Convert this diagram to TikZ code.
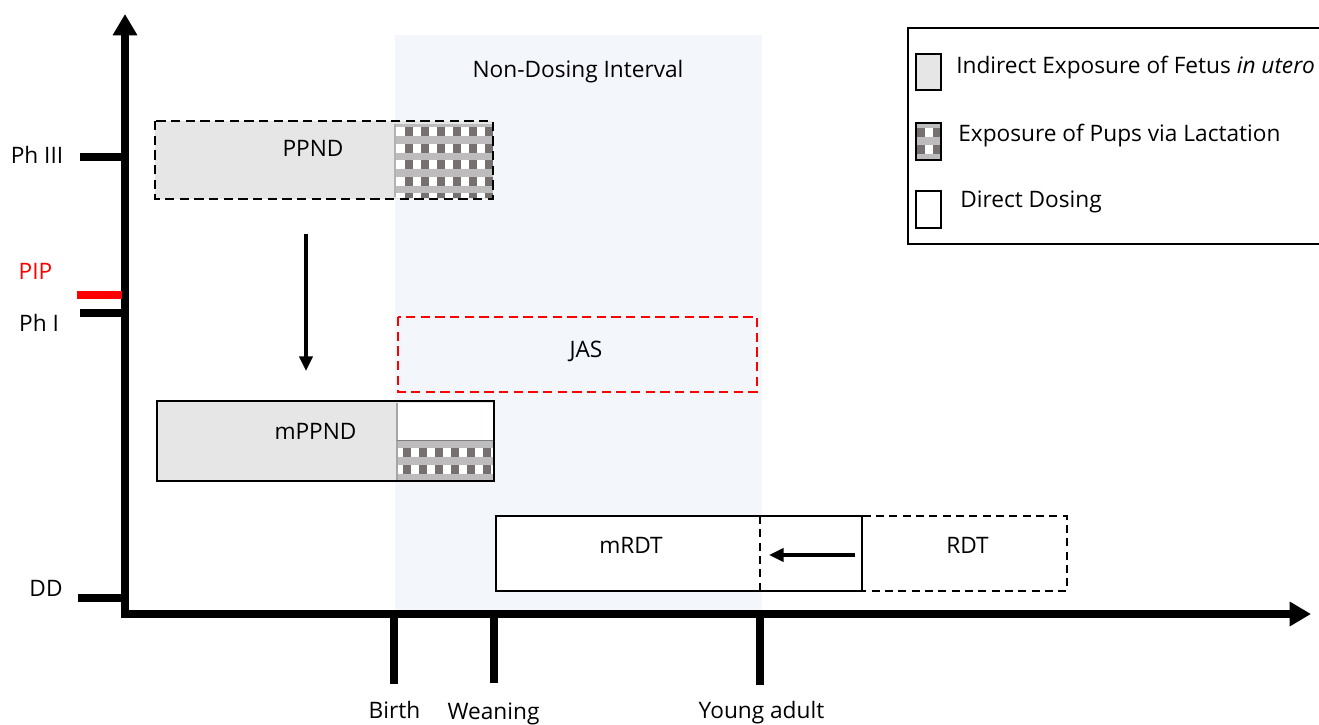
\documentclass[tikz,border=0pt]{standalone}
\usepackage{fontspec}
\setmainfont{Open Sans}
\usetikzlibrary{arrows.meta}

\definecolor{fetusgray}{RGB}{231,230,230}
\definecolor{blockgray}{RGB}{118,113,113}
\definecolor{meshgray}{RGB}{190,188,188}
\definecolor{intervalblue}{RGB}{243,246,251}
\definecolor{pipred}{RGB}{255,0,0}

% lactation texture inside (x1,y1)-(x2,y2); #5 = offset of first block row, #6 = offset of first dark column
\newcommand\lactfill[6]{%
  \begin{scope}
    \clip (#1,#2) rectangle (#3,#4);
    \fill[meshgray] (#1,#2) rectangle (#3,#4);
    \foreach \r in {0,...,5}{
      \fill[white] (#1,#2+#5+16.5*\r) rectangle (#3,#2+#5+16.5*\r+9);
      \foreach \c in {0,...,6}{
        \fill[blockgray] (#1+#6+16*\c,#2+#5+16.5*\r) rectangle ++(7.5,9);
      }
    }
  \end{scope}}

\tikzset{
  axisline/.style={line width=6pt,-{Triangle[width=17.5pt,length=16pt]}},
  tickline/.style={line width=5.3pt},
  dashbox/.style={line width=2.1pt,dash pattern=on 7pt off 4pt},
  thindash/.style={line width=1.5pt,dash pattern=on 6pt off 4pt},
  reddash/.style={draw=pipred,line width=2pt,dash pattern=on 7pt off 4pt},
  solidbox/.style={line width=1.8pt},
  flowarrow/.style={line width=2.5pt,-{Triangle[width=10pt,length=11pt]}},
  lbl/.style={inner sep=0pt,text height=1.5ex,text depth=0.3ex,yshift=-2.5pt},
}

\begin{document}
\begin{tikzpicture}[x=0.75pt,y=-0.75pt,font=\fontsize{17}{20}\selectfont]
\useasboundingbox (0,0) rectangle (1319,724);

% non-dosing interval band
\fill[intervalblue] (395,35) rectangle (762,611);
\node[lbl] (ndi) at (578,70) {Non-Dosing Interval};

% axes
\coordinate (origin) at (125,618);
\coordinate (ytip) at (125,14);
\coordinate (xstart) at (121,614);
\coordinate (xtip) at (1311,614);
\draw[axisline] (origin) -- (ytip);
\draw[axisline] (xstart) -- (xtip);

% y-axis stages
\draw[tickline] (80,157) coordinate (t3) -- (122,157);
\draw[tickline,draw=pipred] (77,295) coordinate (tp) -- (122,295);
\draw[tickline] (80,313) coordinate (t1) -- (122,313);
\draw[tickline] (78,598) coordinate (td) -- (122,598);
\node[lbl] (ph3) at (37,156) {Ph III};
\node[lbl,text=pipred] (pip) at (35.5,272) {PIP};
\node[lbl] (ph1) at (39,324) {Ph I};
\node[lbl] (dd) at (46,589) {DD};

% x-axis milestones
\draw[tickline] (394,617) -- (394,684) coordinate (xb);
\draw[tickline] (494,617) -- (494,683) coordinate (xw);
\draw[tickline] (760,617) -- (760,685) coordinate (xy);
\node[lbl] (birth) at (394.5,711) {Birth};
\node[lbl] (weaning) at (493.5,712) {Weaning};
\node[lbl] (young) at (761.5,711) {Young adult};

% PPND
\fill[fetusgray] (155,121) rectangle (493,199);
\lactfill{396}{124}{493}{197}{3}{9}
\draw[line width=0.8pt,black!30] (395,124) -- (395,197);
\draw[dashbox] (155,121) rectangle (493,199);
\node[lbl] (ppnd) at (313,149) {PPND};

% PPND -> mPPND
\coordinate (down-a) at (306,234);
\coordinate (down-b) at (306,371);
\draw[flowarrow] (down-a) -- (down-b);

% JAS
\draw[reddash] (398,317) rectangle (757,392);
\node[lbl] (jas) at (586,350) {JAS};

% mPPND
\fill[fetusgray] (157,401) rectangle (494,481);
\fill[white] (397,403) rectangle (494,440);
\lactfill{397}{441}{494}{480}{7}{6}
\draw[line width=0.8pt,black!35] (397,403) -- (397,480);
\draw[line width=0.8pt,black!50] (397,440.5) -- (494,440.5);
\draw[solidbox] (157,401) rectangle (494,481);
\node[lbl] (mppnd) at (315.5,432) {mPPND};

% mRDT and RDT
\fill[white] (496,516) rectangle (862,591);
\draw[solidbox] (496,516) rectangle (862,591);
\draw[thindash] (760,516) rectangle (1067,591);
\node[lbl] (mrdt) at (631,546) {mRDT};
\node[lbl] (rdt) at (967.5,546) {RDT};
\coordinate (left-a) at (855,555);
\coordinate (left-b) at (769,555);
\draw[flowarrow] (left-a) -- (left-b);

% legend
\draw[solidbox] (1325,28) -- (908,28) -- (908,244) -- (1325,244);
\fill[fetusgray] (916,54) rectangle (941,90);
\draw[solidbox] (916,54) rectangle (941,90);
\lactfill{916}{123}{941}{160}{5}{1}
\draw[solidbox] (916,123) rectangle (941,160);
\draw[solidbox,fill=white] (916,191) rectangle (941,228);
\node[lbl,anchor=west] (leg1) at (956,66) {Indirect Exposure of Fetus \textit{in utero}};
\node[lbl,anchor=west] (leg2) at (958,134) {Exposure of Pups via Lactation};
\node[lbl,anchor=west] (leg3) at (960,200) {Direct Dosing};
\end{tikzpicture}
\end{document}
